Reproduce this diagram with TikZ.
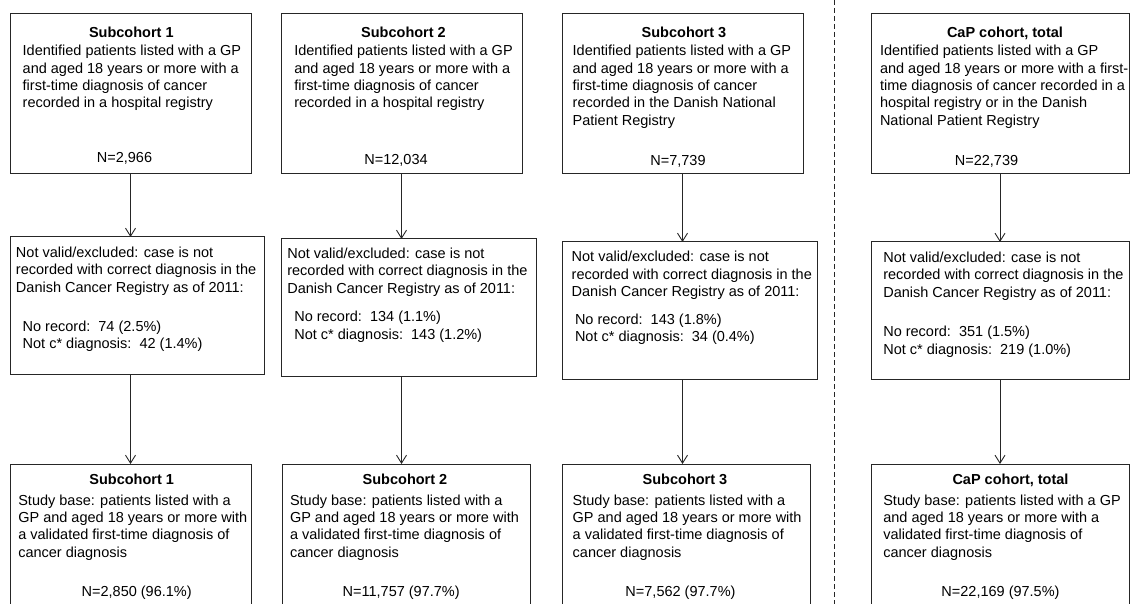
\documentclass[tikz,border=0pt]{standalone}
\usepackage{fontspec}
\setmainfont{Liberation Sans}
\usetikzlibrary{arrows.meta}
\newcommand{\mystrut}{\rule{0pt}{11pt}}
\tikzset{
  box/.style={draw=black!85, line width=1pt, inner sep=0pt, outer sep=0pt, anchor=north west, rectangle},
  body/.style={inner sep=0pt, outer sep=0pt, anchor=north west, align=left, font=\fontsize{14.5}{17.4}\selectfont},
  ttl/.style={inner sep=0pt, outer sep=0pt, anchor=base, font=\fontsize{14.5}{17.4}\selectfont\bfseries},
  num/.style={inner sep=0pt, outer sep=0pt, anchor=base, font=\fontsize{14.5}{17.4}\selectfont},
  arr/.style={draw=black!85, line width=1pt, -{Straight Barb[length=8pt,width=10pt,line width=0.9pt]}},
  sep/.style={draw=black!85, line width=1pt, dash pattern=on 5pt off 3pt}
}
\begin{document}
\begin{tikzpicture}[x=1pt,y=-1pt]
\clip (0,0) rectangle (1130,604);
% top boxes
\node[box, minimum width=241pt, minimum height=160pt] (t1) at (10,14) {};
\node[box, minimum width=241pt, minimum height=160pt] (t2) at (281,14) {};
\node[box, minimum width=241pt, minimum height=160pt] (t3) at (562,14) {};
\node[box, minimum width=258pt, minimum height=160pt] (t4) at (871,14) {};
% middle boxes
\node[box, minimum width=254pt, minimum height=137pt] (m1) at (10,237) {};
\node[box, minimum width=255pt, minimum height=137pt] (m2) at (281,239) {};
\node[box, minimum width=255pt, minimum height=137pt] (m3) at (562,242) {};
\node[box, minimum width=258pt, minimum height=137pt] (m4) at (871,242) {};
% bottom boxes
\node[box, minimum width=241pt, minimum height=170pt] (b1) at (10,464) {};
\node[box, minimum width=248pt, minimum height=170pt] (b2) at (282,464) {};
\node[box, minimum width=248pt, minimum height=170pt] (b3) at (562,464) {};
\node[box, minimum width=258pt, minimum height=170pt] (b4) at (871,464) {};
% separator
\coordinate (s1) at (834,0);
\coordinate (s2) at (834,604);
\draw[sep] (s1) -- (s2);
% top texts
\node[ttl] (tt1) at (131.3,37.3) {Subcohort 1};
\node[ttl] (tt2) at (403.5,37.3) {Subcohort 2};
\node[ttl] (tt3) at (684,37.3) {Subcohort 3};
\node[ttl] (tt4) at (1005,37.3) {CaP cohort, total};
\node[body] (tb1) at (22.7,44.7) {\mystrut Identified patients listed with a GP\\and aged 18 years or more with a\\first-time diagnosis of cancer\\recorded in a hospital registry};
\node[body] (tb2) at (294.3,44.7) {\mystrut Identified patients listed with a GP\\and aged 18 years or more with a\\first-time diagnosis of cancer\\recorded in a hospital registry};
\node[body] (tb3) at (572.7,44.7) {\mystrut Identified patients listed with a GP\\and aged 18 years or more with a\\first-time diagnosis of cancer\\recorded in the Danish National\\Patient Registry};
\node[body] (tb4) at (880,44.7) {\mystrut Identified patients listed with a GP\\and aged 18 years or more with a first-\\time diagnosis of cancer recorded in a\\hospital registry or in the Danish\\National Patient Registry};
\node[num] (tn1) at (124.5,162.3) {N=2,966};
\node[num] (tn2) at (396,164.3) {N=12,034};
\node[num] (tn3) at (678,165.7) {N=7,739};
\node[num] (tn4) at (986.5,165.7) {N=22,739};
% middle texts
\node[body] (mb1) at (16,246.3) {\mystrut Not valid/excluded: case is not\\recorded with correct diagnosis in the\\Danish Cancer Registry as of 2011:};
\node[body] (mb2) at (287.3,247.3) {\mystrut Not valid/excluded: case is not\\recorded with correct diagnosis in the\\Danish Cancer Registry as of 2011:};
\node[body] (mb3) at (571.7,250.7) {\mystrut Not valid/excluded: case is not\\recorded with correct diagnosis in the\\Danish Cancer Registry as of 2011:};
\node[body] (mb4) at (883.3,251.3) {\mystrut Not valid/excluded: case is not\\recorded with correct diagnosis in the\\Danish Cancer Registry as of 2011:};
\node[body] (mr1) at (22.7,320) {\mystrut No record:\ \ 74 (2.5\%)\\Not c* diagnosis:\ \ 42 (1.4\%)};
\node[body] (mr2) at (294.3,310.7) {\mystrut No record:\ \ 134 (1.1\%)\\Not c* diagnosis:\ \ 143 (1.2\%)};
\node[body] (mr3) at (575,313.3) {\mystrut No record:\ \ 143 (1.8\%)\\Not c* diagnosis:\ \ 34 (0.4\%)};
\node[body] (mr4) at (883.3,325.7) {\mystrut No record:\ \ 351 (1.5\%)\\Not c* diagnosis:\ \ 219 (1.0\%)};
% bottom texts
\node[ttl] (bt1) at (131.7,484) {Subcohort 1};
\node[ttl] (bt2) at (405,484) {Subcohort 2};
\node[ttl] (bt3) at (685,484) {Subcohort 3};
\node[ttl] (bt4) at (1010.5,484) {CaP cohort, total};
\node[body] (bb1) at (18.3,494) {\mystrut Study base: patients listed with a\\GP and aged 18 years or more with\\a validated first-time diagnosis of\\cancer diagnosis};
\node[body] (bb2) at (290,494) {\mystrut Study base: patients listed with a\\GP and aged 18 years or more with\\a validated first-time diagnosis of\\cancer diagnosis};
\node[body] (bb3) at (572.7,494) {\mystrut Study base: patients listed with a\\GP and aged 18 years or more with\\a validated first-time diagnosis of\\cancer diagnosis};
\node[body] (bb4) at (883.3,494) {\mystrut Study base: patients listed with a GP\\and aged 18 years or more with a\\validated first-time diagnosis of\\cancer diagnosis};
\node[num] (bn1) at (136.7,596) {N=2,850 (96.1\%)};
\node[num] (bn2) at (401.2,596) {N=11,757 (97.7\%)};
\node[num] (bn3) at (680.5,596) {N=7,562 (97.7\%)};
\node[num] (bn4) at (1000.5,596) {N=22,169 (97.5\%)};
% arrows
\draw[arr] (t1.south) -- (t1.south |- m1.north);
\draw[arr] (t2.south) -- (t2.south |- m2.north);
\draw[arr] (t3.south) -- (t3.south |- m3.north);
\draw[arr] (t4.south) -- (t4.south |- m4.north);
\draw[arr] (t1.south |- m1.south) -- (t1.south |- b1.north);
\draw[arr] (t2.south |- m2.south) -- (t2.south |- b2.north);
\draw[arr] (t3.south |- m3.south) -- (t3.south |- b3.north);
\draw[arr] (t4.south |- m4.south) -- (t4.south |- b4.north);
\end{tikzpicture}
\end{document}
